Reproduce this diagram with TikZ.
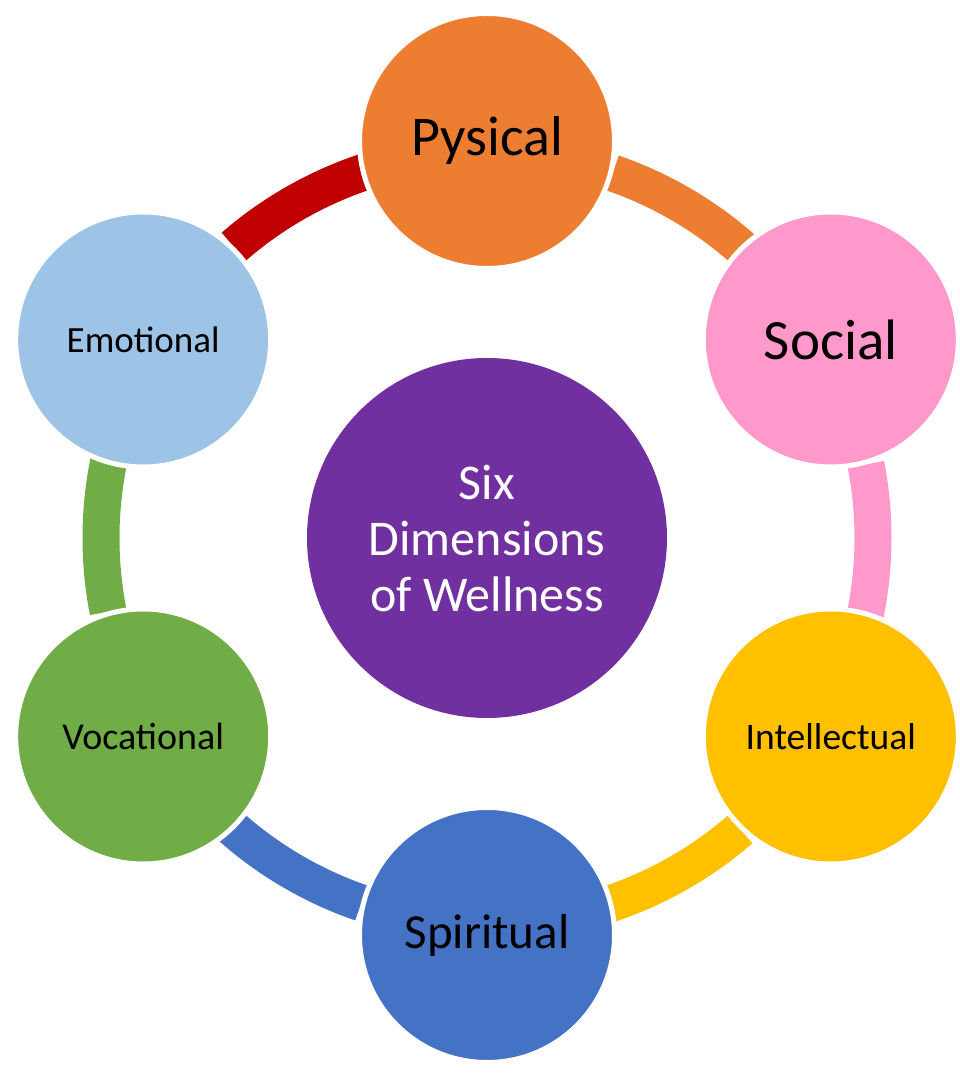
\documentclass[tikz,border=0pt]{standalone}
\usepackage{fontspec}
\setmainfont{Carlito}
\usetikzlibrary{calc}

\definecolor{hubpurple}{HTML}{7030A0}
\definecolor{physorange}{HTML}{ED7D31}
\definecolor{socpink}{HTML}{FF99CC}
\definecolor{intyellow}{HTML}{FFC000}
\definecolor{spiblue}{HTML}{4472C4}
\definecolor{vocgreen}{HTML}{70AD47}
\definecolor{emoblue}{HTML}{9DC3E6}
\definecolor{emored}{HTML}{C00000}

\newcommand{\fsz}[1]{\fontsize{#1}{#1}\selectfont}

\begin{document}
\begin{tikzpicture}[
    x=1pt,
    y=1pt,
    hubnode/.style={circle,inner sep=0pt,minimum size=360,fill=hubpurple,
      text=white,align=center,font=\fontsize{50}{56}\selectfont},
    dimnode/.style={circle,inner sep=0pt,minimum size=255,draw=white,
      line width=5pt,text=black},
    ringarc/.style={line width=37pt}
  ]
    \useasboundingbox (0,0) rectangle (960,1074);

    \coordinate (mid) at (487,536);

    % ring pieces, each one ends below the next circle
    \draw[ringarc,emored]    ($(mid)+(131:386)$) arc[start angle=131,end angle=90,radius=386];
    \draw[ringarc,physorange] ($(mid)+(71:386)$) arc[start angle=71,end angle=30,radius=386];
    \draw[ringarc,socpink]   ($(mid)+(11:386)$) arc[start angle=11,end angle=-30,radius=386];
    \draw[ringarc,intyellow] ($(mid)+(-49:386)$) arc[start angle=-49,end angle=-90,radius=386];
    \draw[ringarc,spiblue]   ($(mid)+(-109:386)$) arc[start angle=-109,end angle=-150,radius=386];
    \draw[ringarc,vocgreen]  ($(mid)+(191:386)$) arc[start angle=191,end angle=150,radius=386];

    \node[hubnode] (hub) at (mid) {Six\\Dimensions\\of Wellness};

    \node[dimnode,fill=physorange,font=\fsz{56}] (pysical)
      at ($(mid)+(90:397)$) {Pysical};
    \node[dimnode,fill=socpink,font=\fsz{57}] (social)
      at ($(mid)+(30:397)$) {Social};
    \node[dimnode,fill=intyellow,font=\fsz{37.5}] (intellectual)
      at ($(mid)+(-30:397)$) {Intellectual};
    \node[dimnode,fill=spiblue,font=\fsz{49}] (spiritual)
      at ($(mid)+(-90:397)$) {Spiritual};
    \node[dimnode,fill=vocgreen,font=\fsz{38}] (vocational)
      at ($(mid)+(210:397)$) {Vocational};
    \node[dimnode,fill=emoblue,font=\fsz{37}] (emotional)
      at ($(mid)+(150:397)$) {Emotional};
  \end{tikzpicture}
\end{document}
